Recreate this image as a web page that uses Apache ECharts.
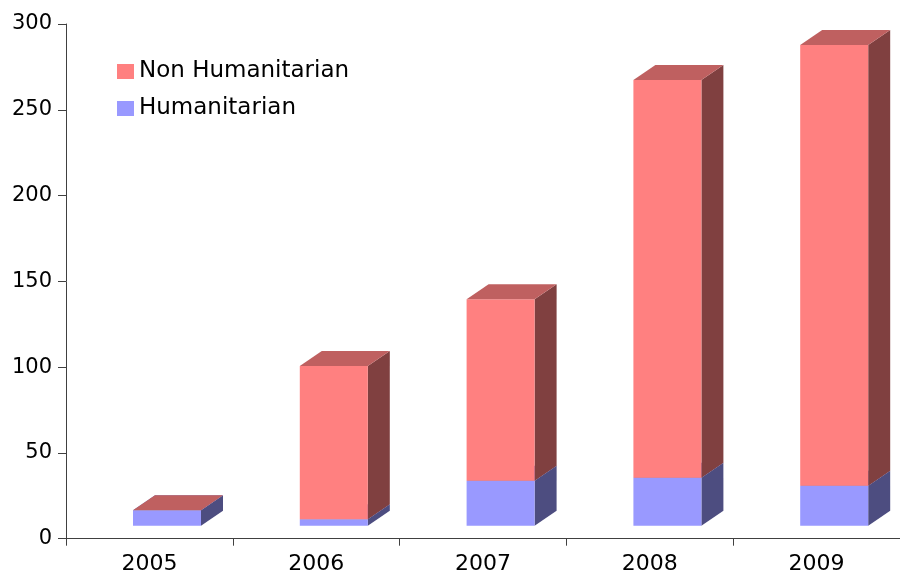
<!DOCTYPE html>
<html>
<head>
<meta charset="utf-8">
<script src="https://cdn.jsdelivr.net/npm/echarts@6/dist/echarts.min.js"></script>
<style>
html,body{margin:0;padding:0;background:#fff;}
#chart{width:900px;height:576px;}
</style>
</head>
<body>
<div id="chart"></div>
<script>
// ---- data ----
const years = ['2005', '2006', '2007', '2008', '2009'];
const humanitarian = [9, 3.7, 26.2, 28, 23.3];
const nonHumanitarian = [0, 89.4, 105.8, 231.8, 256.9];
const yTicks = [0, 50, 100, 150, 200, 250, 300];

// ---- 3D box styling ----
const SHIFT_X = 17.6, SHIFT_Y = -13, BAR_W = 68, DX = 22, DY = -15;

function boxRenderer(front, top, side) {
  return function (params, api) {
    const i = api.value(0);
    const c = api.coord([i, 0]);
    const y0 = api.coord([i, api.value(1)])[1] + SHIFT_Y;
    const y1 = api.coord([i, api.value(2)])[1] + SHIFT_Y;
    const xL = c[0] + SHIFT_X - BAR_W / 2;
    const xR = xL + BAR_W;
    return {
      type: 'group',
      children: [
        { type: 'polygon', shape: { points: [[xR, y1], [xR + DX, y1 + DY], [xR + DX, y0 + DY], [xR, y0]] }, style: { fill: side } },
        { type: 'rect', shape: { x: xL, y: y1, width: BAR_W, height: Math.max(0, y0 - y1) }, style: { fill: front } },
        { type: 'polygon', shape: { points: [[xL, y1], [xR, y1], [xR + DX, y1 + DY], [xL + DX, y1 + DY]] }, style: { fill: top } }
      ]
    };
  };
}

const humData = years.map((y, i) => [i, 0, humanitarian[i]]);
const nonData = years.map((y, i) => [i, humanitarian[i], humanitarian[i] + nonHumanitarian[i]]);

const FONT = 'DejaVu Sans';
const chart = echarts.init(document.getElementById('chart'), null, { renderer: 'canvas' });
chart.setOption({
  animation: false,
  backgroundColor: '#ffffff',
  grid: { left: 66, right: -5, top: 24, bottom: 37.3, containLabel: false },
  legend: {
    orient: 'vertical',
    left: 112,
    top: 55,
    itemWidth: 17,
    itemHeight: 15,
    itemGap: 14,
    icon: 'rect',
    textStyle: { fontFamily: FONT, fontSize: 23, color: '#000' },
    data: ['Non Humanitarian', 'Humanitarian']
  },
  xAxis: {
    type: 'category',
    data: years,
    boundaryGap: true,
    axisLine: { lineStyle: { color: '#404040', width: 1 } },
    axisTick: { show: true, length: 7, lineStyle: { color: '#404040' } },
    axisLabel: { fontFamily: FONT, fontSize: 22, color: '#000', margin: 15 },
    splitLine: { show: false }
  },
  yAxis: {
    type: 'value',
    min: yTicks[0],
    max: yTicks[yTicks.length - 1],
    interval: yTicks[1] - yTicks[0],
    axisLine: { show: true, lineStyle: { color: '#404040', width: 1 } },
    axisTick: { show: true, length: 8, lineStyle: { color: '#404040' } },
    axisLabel: { fontFamily: FONT, fontSize: 21, color: '#000', margin: 14 },
    splitLine: { show: false }
  },
  series: [
    {
      name: 'Humanitarian',
      type: 'custom',
      itemStyle: { color: '#9999FF' },
      encode: { x: 0, y: [1, 2] },
      renderItem: boxRenderer('#9999FF', '#7373BF', '#4D4D80'),
      data: humData,
      z: 2
    },
    {
      name: 'Non Humanitarian',
      type: 'custom',
      itemStyle: { color: '#FF8080' },
      encode: { x: 0, y: [1, 2] },
      renderItem: boxRenderer('#FF8080', '#BF6060', '#804040'),
      data: nonData,
      z: 3
    }
  ]
});
</script>
</body>
</html>
